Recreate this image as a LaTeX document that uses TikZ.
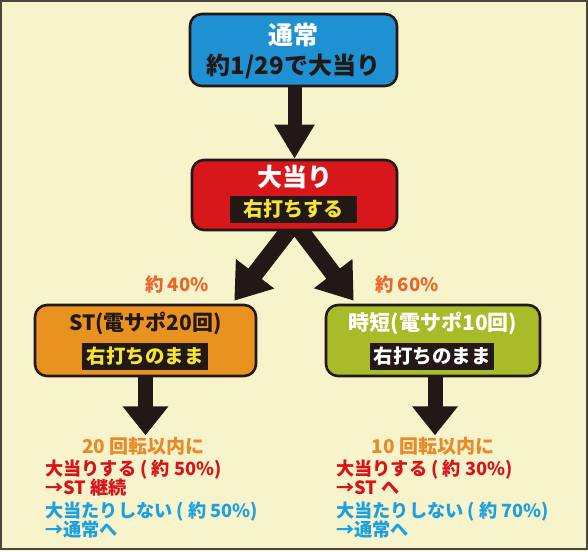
\documentclass[tikz,border=0pt]{standalone}
\usepackage{fontspec}
\setmainfont{Noto Sans CJK JP}
\usetikzlibrary{arrows.meta,calc}
\pgfdeclarelayer{bg}
\pgfsetlayers{bg,main}
\definecolor{bgc}{HTML}{F7F3CB}
\definecolor{framec}{HTML}{4B4540}
\definecolor{ink}{HTML}{231815}
\definecolor{boxblue}{HTML}{1E91D3}
\definecolor{boxred}{HTML}{D8171C}
\definecolor{boxorange}{HTML}{E8931F}
\definecolor{boxgreen}{HTML}{A8BC29}
\definecolor{pctorange}{HTML}{E8672A}
\definecolor{lightorange}{HTML}{E88A2A}
\definecolor{txtred}{HTML}{D7141A}
\definecolor{txtblue}{HTML}{1CA0E2}
\definecolor{labelyellow}{HTML}{F2E534}
\tikzset{
  box/.style={draw=ink, line width=2.6pt, rounded corners=12pt, inner sep=0pt},
  tag/.style={fill=ink, inner sep=0pt, minimum height=27pt, font=\bfseries\fontsize{19.5}{21}\selectfont},
  title/.style={font=\bfseries\fontsize{25}{27}\selectfont, inner sep=0pt},
  sub/.style={font=\bfseries\fontsize{21}{23}\selectfont, inner sep=0pt},
  pct/.style={font=\bfseries\fontsize{18.5}{20}\selectfont, inner sep=0pt},
  note/.style={font=\bfseries\fontsize{18.2}{20}\selectfont, inner sep=0pt, anchor=west},
  bigarrow/.style={draw=ink, line width=14pt, -{Triangle[length=34pt,width=38pt]}},
  diagarrow/.style={draw=ink, line width=17pt, -{Triangle[length=34pt,width=46pt]}},
  downarrow/.style={draw=ink, line width=15pt, -{Triangle[length=29pt,width=44pt]}},
}
\begin{document}
\begin{tikzpicture}[x=1pt,y=-1pt]
\useasboundingbox (0,0) rectangle (588,551);

% top box
\node[box, fill=boxblue, minimum width=207pt, minimum height=72pt] (top) at (293.5,50) {};
\node[title, text=white] (topA) at (293.5,35) {通常};
\node[title, text=ink, font=\bfseries\fontsize{24}{26}\selectfont] (topB) at (293.5,66) {約1/29で大当り};

% red box
\node[box, fill=boxred, minimum width=205pt, minimum height=70pt] (red) at (294.5,195) {};
\node[title, text=white] (redA) at (294.5,177) {大当り};
\node[tag, minimum width=127pt, text=labelyellow, font=\bfseries\fontsize{20}{22}\selectfont] (redB) at (293.5,209) {右打ちする};

% ST box
\node[box, fill=boxorange, minimum width=221pt, minimum height=71pt] (st) at (145.5,340.5) {};
\node[sub, text=ink] (stA) at (145.5,323) {ST(電サポ20回)};
\node[tag, minimum width=126pt, text=labelyellow] (stB) at (145,356.5) {右打ちのまま};

% jitan box
\node[box, fill=boxgreen, minimum width=214pt, minimum height=71pt] (jt) at (433,340.5) {};
\node[sub, text=white] (jtA) at (433,323) {時短(電サポ10回)};
\node[tag, minimum width=124pt, text=white] (jtB) at (432,356.5) {右打ちのまま};

% percentages
\node[pct, text=pctorange] (p40) at (177,284) {約 40\%};
\node[pct, text=pctorange] (p60) at (407,284) {約 60\%};

% background, frame and arrows
\begin{pgfonlayer}{bg}
\fill[bgc] (0,0) rectangle (588,551);
\draw[framec, line width=2pt] (1,1) rectangle (586.5,549);
\draw[bigarrow] ($(top.south)+(1,-4)$) -- (red.north);
\draw[diagarrow] ($(red.south)+(-2,-6)$) -- ($(st.north east)+(-23,-3)$);
\draw[diagarrow] ($(red.south)+(2,-6)$) -- ($(jt.north west)+(29,-3)$);
\draw[downarrow] ($(st.south)+(0,-4)$) -- ($(st.south)+(0,58)$) coordinate (stend);
\draw[downarrow] ($(jt.south)+(2,-4)$) -- ($(jt.south)+(2,58)$) coordinate (jtend);
\end{pgfonlayer}

% left notes
\node[pct, text=lightorange, font=\bfseries\fontsize{19}{21}\selectfont] (l0) at (143.5,446) {20 回転以内に};
\node[note, text=txtred] (l1) at (45,469.5) {大当りする ( 約 50\%)};
\node[note, text=txtred] (l2) at (45,488) {→ST 継続};
\node[note, text=txtblue] (l3) at (45,512) {大当たりしない ( 約 50\%)};
\node[note, text=txtblue] (l4) at (45,530) {→通常へ};

% right notes
\node[pct, text=lightorange, font=\bfseries\fontsize{19}{21}\selectfont] (r0) at (433,446) {10 回転以内に};
\node[note, text=txtred] (r1) at (336,469.5) {大当りする ( 約 30\%)};
\node[note, text=txtred] (r2) at (336,488) {→ST へ};
\node[note, text=txtblue] (r3) at (336,512) {大当たりしない ( 約 70\%)};
\node[note, text=txtblue] (r4) at (336,530) {→通常へ};
\end{tikzpicture}
\end{document}
